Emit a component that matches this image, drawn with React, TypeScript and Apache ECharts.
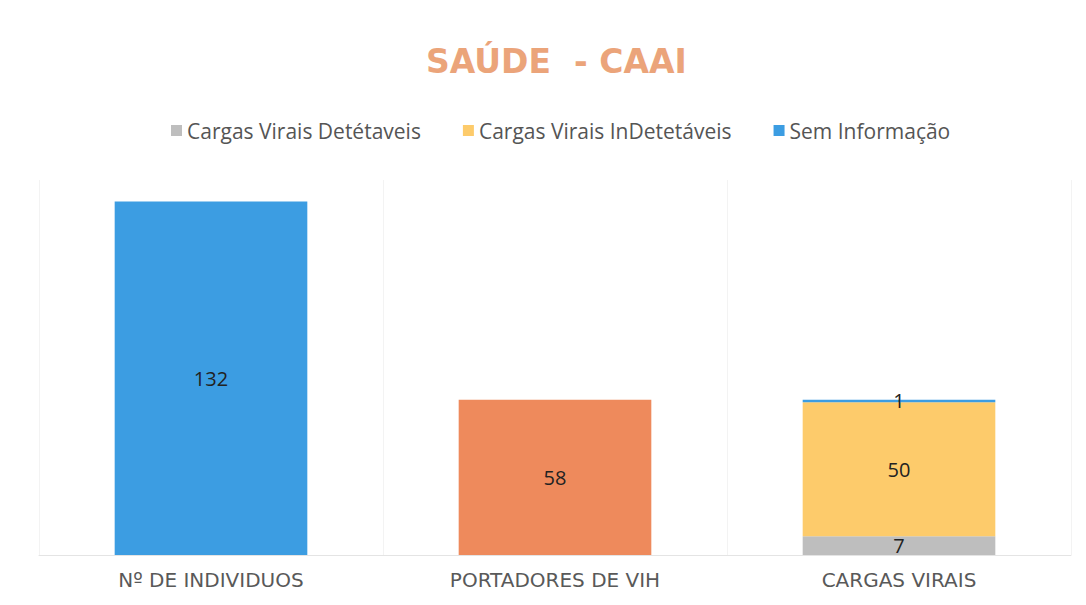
import React, { useEffect, useRef } from "react";
import * as echarts from "echarts";

const categories = ["Nº DE INDIVIDUOS", "PORTADORES DE VIH", "CARGAS VIRAIS"];
const detetaveis = ["-", "-", 7];
const indetetaveis = ["-", "-", 50];
const semInformacao = [132, "-", 1];
const portadores = ["-", 58, "-"];

export default function App() {
  const ref = useRef<HTMLDivElement>(null);
  useEffect(() => {
    document.body.style.margin = "0";
    const chart = echarts.init(ref.current!, null, { renderer: "svg" });
    const label = {
      show: true,
      position: "inside",
      color: "#222",
      fontSize: 20,
      fontFamily: "Open Sans",
      formatter: (p: any) => String(p.value),
    };
    chart.setOption({
      animation: false,
      backgroundColor: "#fff",
      title: {
        text: "SAÚDE  - CAAI",
        left: 421,
        top: 40,
        textStyle: { color: "#EBA47A", fontSize: 33, fontWeight: "bold", fontFamily: "DejaVu Sans" },
      },
      legend: {
        data: ["Cargas Virais Detétaveis", "Cargas Virais InDetetáveis", "Sem Informação"],
        top: 115,
        left: 166,
        itemWidth: 11,
        itemHeight: 11,
        itemGap: 42,
        icon: "rect",
        textStyle: { color: "#555", fontSize: 21, fontFamily: "Open Sans" },
      },
      grid: { left: 39, right: 15, top: 180, bottom: 50 },
      xAxis: {
        type: "category",
        data: categories,
        axisTick: { show: false },
        axisLine: { lineStyle: { color: "#e4e4e4" } },
        splitLine: { show: true, lineStyle: { color: "#f3f3f3" } },
        axisLabel: { color: "#595959", fontSize: 20, fontFamily: "DejaVu Sans", margin: 15 },
      },
      yAxis: { type: "value", min: 0, max: 140, show: false },
      series: [
        { name: "Cargas Virais Detétaveis", type: "bar", stack: "t", data: detetaveis, barWidth: "56%", itemStyle: { color: "#BEBEBE" }, label },
        { name: "Cargas Virais InDetetáveis", type: "bar", stack: "t", data: indetetaveis, itemStyle: { color: "#FDCB6B" }, label },
        { name: "Sem Informação", type: "bar", stack: "t", data: semInformacao, itemStyle: { color: "#3C9DE2" }, label },
        { name: "Portadores", type: "bar", stack: "t", data: portadores, itemStyle: { color: "#EE8A5C" }, label },
      ],
    });
    return () => chart.dispose();
  }, []);
  return <div ref={ref} style={{ width: 1086, height: 605 }} />;
}
